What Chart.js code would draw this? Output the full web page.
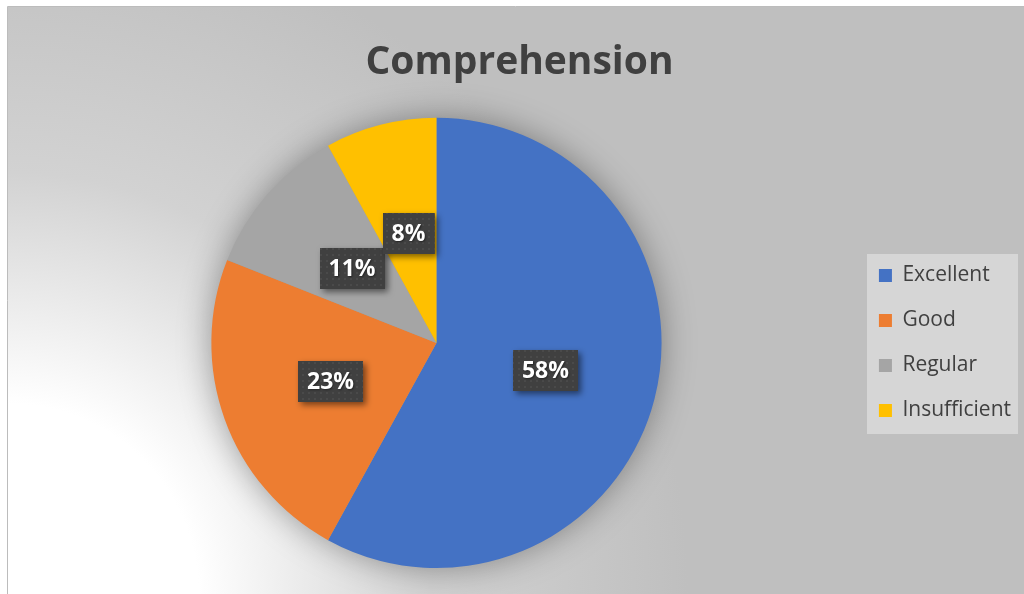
<!DOCTYPE html>
<html>
<head>
<meta charset="utf-8">
<title>Comprehension</title>
<script src="https://cdn.jsdelivr.net/npm/chart.js@4.4.1/dist/chart.umd.min.js"></script>
<style>
  html, body { margin: 0; padding: 0; background: #fff; }
  #wrap { width: 1024px; height: 594px; }
</style>
</head>
<body>
<div id="wrap"><canvas id="chart" width="1024" height="594"></canvas></div>
<script>
const labels = ['Excellent', 'Good', 'Regular', 'Insufficient'];
const shares = [58, 23, 11, 8];
const sliceColors = ['#4472c4', '#ed7d31', '#a5a5a5', '#ffc000'];
const chartTitle = 'Comprehension';

const FONT = '"Open Sans", Lato, sans-serif';
Chart.defaults.font.family = FONT;

// frame + radial wash from the lower-left corner
const backdrop = {
    id: 'backdrop',
    beforeDraw(chart) {
        const { ctx, width, height } = chart;
        ctx.save();
        ctx.fillStyle = '#ffffff';
        ctx.fillRect(0, 0, width, height);
        const g = ctx.createRadialGradient(8, height, 0, 8, height, 680);
        g.addColorStop(0, '#ffffff');
        g.addColorStop(0.28, '#ffffff');
        g.addColorStop(0.62, '#d2d2d2');
        g.addColorStop(1, '#bfbfbf');
        ctx.fillStyle = g;
        ctx.fillRect(8, 7, width - 8, height - 7);
        ctx.strokeStyle = '#bcbcbc';
        ctx.lineWidth = 1;
        ctx.beginPath();
        ctx.moveTo(7.5, height);
        ctx.lineTo(7.5, 6.5);
        ctx.lineTo(width, 6.5);
        ctx.stroke();

        // legend panel
        const boxes = chart.legend && chart.legend.legendHitBoxes;
        if (boxes && boxes.length) {
            const top = Math.min(...boxes.map(b => b.top));
            const bottom = Math.max(...boxes.map(b => b.top + b.height));
            const left = Math.min(...boxes.map(b => b.left));
            ctx.fillStyle = '#d6d6d6';
            ctx.fillRect(Math.round(left) - 12, Math.round(top) - 11, 151, Math.round(bottom - top) + 24);
        }
        ctx.restore();
    }
};

// soft shadow under the pie
const pieShadow = {
    id: 'pieShadow',
    beforeDatasetsDraw(chart) {
        const arc = chart.getDatasetMeta(0).data[0];
        if (!arc) return;
        const { ctx } = chart;
        ctx.save();
        ctx.shadowColor = 'rgba(0,0,0,0.38)';
        ctx.shadowBlur = 34;
        ctx.fillStyle = '#9a9a9a';
        ctx.beginPath();
        ctx.arc(arc.x, arc.y, arc.outerRadius - 1, 0, Math.PI * 2);
        ctx.fill();
        ctx.restore();
    }
};

function dotPattern(ctx) {
    const c = document.createElement('canvas');
    c.width = 6; c.height = 6;
    const p = c.getContext('2d');
    p.fillStyle = '#404040';
    p.fillRect(0, 0, 6, 6);
    p.fillStyle = '#4a4a4a';
    p.fillRect(2, 2, 2, 2);
    return ctx.createPattern(c, 'repeat');
}

// percentage tags in dark boxes
const percentTags = {
    id: 'percentTags',
    afterDatasetsDraw(chart) {
        const { ctx } = chart;
        const meta = chart.getDatasetMeta(0);
        const values = chart.data.datasets[0].data;
        const total = values.reduce((a, b) => a + b, 0);
        const fill = dotPattern(ctx);
        ctx.save();
        ctx.font = 'bold 23px ' + FONT;
        ctx.textAlign = 'center';
        ctx.textBaseline = 'middle';
        meta.data.forEach((arc, i) => {
            const pos = arc.tooltipPosition();
            const text = Math.round(values[i] / total * 100) + '%';
            const w = ctx.measureText(text).width + 18;
            const h = 41;
            const x = Math.round(pos.x - w / 2);
            const y = Math.round(pos.y - h / 2);
            ctx.save();
            ctx.shadowColor = 'rgba(0,0,0,0.5)';
            ctx.shadowBlur = 6;
            ctx.shadowOffsetX = 3;
            ctx.shadowOffsetY = 3;
            ctx.fillStyle = fill;
            ctx.fillRect(x, y, w, h);
            ctx.restore();
            ctx.save();
            ctx.shadowColor = 'rgba(0,0,0,0.45)';
            ctx.shadowBlur = 2;
            ctx.shadowOffsetX = 1;
            ctx.shadowOffsetY = 1;
            ctx.fillStyle = '#ffffff';
            ctx.fillText(text, pos.x, pos.y + 1);
            ctx.restore();
        });
        ctx.restore();
    }
};

new Chart(document.getElementById('chart'), {
    type: 'pie',
    data: {
        labels: labels,
        datasets: [{
            data: shares,
            backgroundColor: sliceColors,
            borderWidth: 0
        }]
    },
    options: {
        responsive: false,
        animation: false,
        layout: {
            padding: { top: 8, left: 18, right: 3, bottom: 26 }
        },
        plugins: {
            title: {
                display: true,
                text: chartTitle,
                color: '#404040',
                font: { size: 39, weight: 'bold' },
                padding: { top: 31, bottom: 32 }
            },
            legend: {
                position: 'right',
                fullSize: false,
                labels: {
                    color: '#404040',
                    font: { size: 21 },
                    boxWidth: 13,
                    boxHeight: 13,
                    padding: 24
                }
            },
            tooltip: { enabled: false }
        }
    },
    plugins: [backdrop, pieShadow, percentTags]
});
</script>
</body>
</html>
